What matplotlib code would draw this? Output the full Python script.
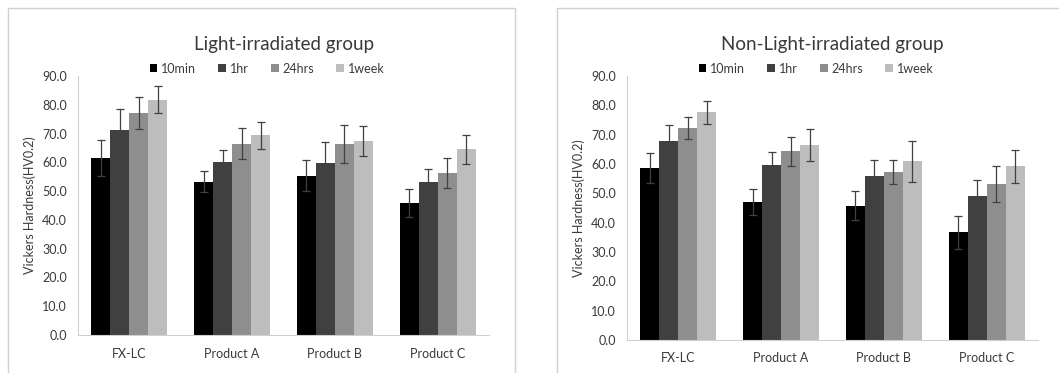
import matplotlib.pyplot as plt
import numpy as np
from matplotlib.patches import Rectangle

plt.rcParams['font.family'] = ['Lato', 'DejaVu Sans']

products = ['FX-LC', 'Product A', 'Product B', 'Product C']
times = ['10min', '1hr', '24hrs', '1week']
colors = ['#000000', '#404040', '#8e8e8e', '#bdbdbd']

# light-irradiated group: rows = time, cols = product
light_mean = [
    [61.4, 53.3, 55.4, 46.0],
    [71.2, 60.0, 59.7, 53.2],
    [77.1, 66.5, 66.3, 56.3],
    [81.8, 69.4, 67.4, 64.5],
]
light_sd = [
    [6.2, 3.7, 5.3, 4.9],
    [7.2, 4.2, 7.4, 4.4],
    [5.5, 5.4, 6.6, 5.1],
    [4.8, 4.7, 5.1, 5.1],
]

# non-light-irradiated group
dark_mean = [
    [58.5, 47.0, 45.8, 36.7],
    [67.7, 59.8, 56.0, 49.1],
    [72.3, 64.3, 57.2, 53.3],
    [77.6, 66.5, 60.9, 59.2],
]
dark_sd = [
    [5.1, 4.4, 4.9, 5.7],
    [5.5, 4.4, 5.3, 5.6],
    [3.7, 4.9, 4.1, 6.1],
    [3.9, 5.4, 7.1, 5.7],
]

fig = plt.figure(figsize=(10.59, 3.73), dpi=100)

# panel borders (pixel coords -> figure fraction)
W, H = 1059, 373
fig.add_artist(Rectangle((8 / W, -0.05), 507 / W, 1 - 8 / H + 0.05,
                         transform=fig.transFigure, fill=False,
                         edgecolor='#d0d0d0', lw=1.0))
fig.add_artist(Rectangle((557 / W, -0.05), 0.6, 1 - 8 / H + 0.05,
                         transform=fig.transFigure, fill=False,
                         edgecolor='#d0d0d0', lw=1.0))

ax1 = fig.add_axes([78 / W, 38 / H, 411 / W, 259 / H])
ax2 = fig.add_axes([627 / W, 33 / H, 411 / W, 264 / H])

txt = '#3a3a3a'


def draw(ax, means, sds, title):
    x = np.arange(len(products))
    w = 0.185
    for i, t in enumerate(times):
        ax.bar(x + (i - 1.5) * w, means[i], w, color=colors[i], label=t,
               yerr=sds[i], error_kw=dict(ecolor='#404040', elinewidth=0.9,
                                           capsize=2.6, capthick=0.9))
    ax.set_xlim(-0.5, 3.5)
    ax.set_ylim(0, 90)
    ax.set_yticks(np.arange(0, 91, 10))
    ax.set_yticklabels(['%.1f' % v for v in np.arange(0, 91, 10)])
    ax.set_xticks(x)
    ax.set_xticklabels(products)
    ax.tick_params(length=0, labelsize=9, colors=txt)
    ax.tick_params(axis='y', pad=8)
    ax.tick_params(axis='x', pad=9)
    for s in ['top', 'right']:
        ax.spines[s].set_visible(False)
    for s in ['left', 'bottom']:
        ax.spines[s].set_color('#d0d0d0')
    ax.set_ylabel('Vickers Hardness(HV0.2)', fontsize=9, color=txt,
                  labelpad=4)
    ax.set_title(title, fontsize=13.5, color=txt, pad=19)
    ax.legend(loc='center', bbox_to_anchor=(0.46, 1.028), ncol=4,
              frameon=False, fontsize=9, handlelength=0.6, handleheight=0.6,
              handletextpad=0.3, columnspacing=1.8, labelcolor=txt,
              borderpad=0)


draw(ax1, light_mean, light_sd, 'Light-irradiated group')
draw(ax2, dark_mean, dark_sd, 'Non-Light-irradiated group')

fig.savefig('out.png', dpi=100)
